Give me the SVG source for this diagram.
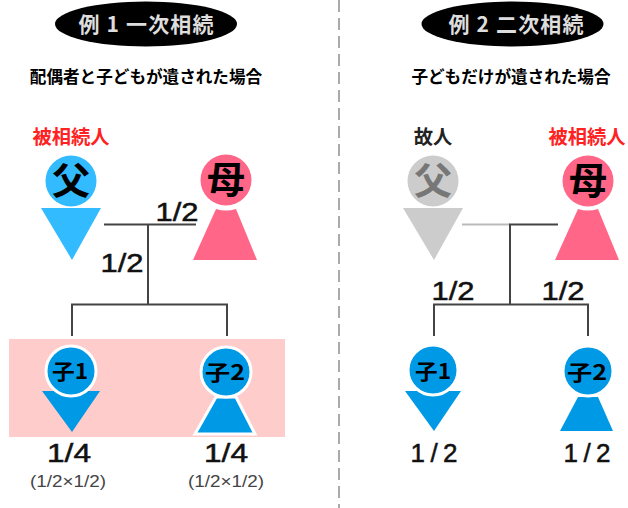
<svg xmlns="http://www.w3.org/2000/svg" width="628" height="508" viewBox="0 0 628 508">
<style>
text{font-family:"Noto Sans CJK JP","Liberation Sans",sans-serif;text-anchor:middle;font-weight:700;fill:#000}
.hd{font-size:21px;fill:#ddd;font-weight:700}
.sub{font-size:16.6px}
.red{font-size:19.300px;fill:#f22}
.gl{font-size:19.300px;fill:#222}
.big{font-size:38px}
.ch{font-size:21px;font-weight:700}
.fr{font-family:"Liberation Sans",sans-serif;font-size:26px;font-weight:400;fill:#111;stroke:#111;stroke-width:.5}
.sm{font-family:"Liberation Sans",sans-serif;font-size:17px;font-weight:400;fill:#444}
.ln{fill:none;stroke:#444;stroke-width:2}
.wh{stroke:#fff;stroke-width:3}
</style>
<rect width="628" height="508" fill="#fff"/>
<rect x="9" y="339" width="276" height="98" fill="#fcc"/>
<line x1="339" y1="0" x2="339" y2="508" stroke="#aaa" stroke-width="2" stroke-dasharray="12 6"/>
<g id="connectors">
<path class="ln" d="M104 224.500H196M148 224.500V304.500M72 336V304.500H227V336"/>
<path d="M462 224.500H510" fill="none" stroke="#bbb" stroke-width="2"/>
<path class="ln" d="M558 224.500H510V304.500M434 336V304.500H588V336"/>
</g>
<g id="title1"><ellipse cx="146" cy="24" rx="91" ry="22.500" fill="#000"/><text class="hd" x="146" y="32" textLength="135">例 1 一次相続</text></g>
<g id="title2"><ellipse cx="512.500" cy="24" rx="91" ry="22.500" fill="#000"/><text class="hd" x="516" y="32" textLength="135">例 2 二次相続</text></g>
<g id="sub1"><text class="sub" x="146" y="83">配偶者と子どもが遺された場合</text></g>
<g id="sub2"><text class="sub" x="511" y="83">子どもだけが遺された場合</text></g>
<g id="father1">
<text class="red" x="71" y="144">被相続人</text>
<circle cx="71" cy="181" r="25.500" fill="#33bbff"/>
<path d="M41 208H101L72 260Z" fill="#33bbff"/>
<text class="big" x="71" y="194">父</text>
</g>
<g id="mother1">
<circle cx="226" cy="180" r="25.500" fill="#ff6688"/>
<path d="M216 209Q226 212 236 209L257 260H193Z" fill="#ff6688"/>
<text class="big" x="226" y="193">母</text>
</g>
<text class="fr" x="177" y="221" textLength="43" lengthAdjust="spacingAndGlyphs">1/2</text>
<text class="fr" x="122" y="272" textLength="43" lengthAdjust="spacingAndGlyphs">1/2</text>
<g id="child1a">
<path d="M42 391H100L72 432Z" fill="#0099e6"/>
<circle cx="71" cy="371" r="25" fill="#0099e6" class="wh"/>
<text class="ch" x="70" y="379" textLength="36" lengthAdjust="spacingAndGlyphs">子1</text>
</g>
<g id="child2a">
<path d="M216 397H236L255 434H195Z" fill="#0099e6" class="wh"/>
<circle cx="226" cy="372" r="25" fill="#0099e6" class="wh"/>
<text class="ch" x="225" y="380" textLength="40" lengthAdjust="spacingAndGlyphs">子2</text>
</g>
<text class="fr" x="69" y="462" textLength="44" lengthAdjust="spacingAndGlyphs">1/4</text>
<text class="fr" x="226" y="462" textLength="44" lengthAdjust="spacingAndGlyphs">1/4</text>
<text class="sm" x="68" y="487" textLength="76" lengthAdjust="spacingAndGlyphs">(1/2×1/2)</text>
<text class="sm" x="226" y="487" textLength="76" lengthAdjust="spacingAndGlyphs">(1/2×1/2)</text>
<g id="father2">
<text class="gl" x="433" y="144">故人</text>
<circle cx="433" cy="181" r="25.500" fill="#ccc"/>
<path d="M403 208H463L434 260Z" fill="#ccc"/>
<text class="big" x="433" y="194" style="fill:#777">父</text>
</g>
<g id="mother2">
<text class="red" x="587" y="144">被相続人</text>
<circle cx="588" cy="181" r="25.500" fill="#ff6688"/>
<path d="M578 209Q588 212 598 209L619 260H555Z" fill="#ff6688"/>
<text class="big" x="588" y="194">母</text>
</g>
<text class="fr" x="453" y="300" textLength="43" lengthAdjust="spacingAndGlyphs">1/2</text>
<text class="fr" x="563" y="300" textLength="43" lengthAdjust="spacingAndGlyphs">1/2</text>
<g id="child1b">
<path d="M405 391H461L434 431Z" fill="#0099e6"/>
<circle cx="433" cy="370" r="25" fill="#0099e6" class="wh"/>
<text class="ch" x="433" y="379" textLength="36" lengthAdjust="spacingAndGlyphs">子1</text>
</g>
<g id="child2b">
<path d="M578 397H598L613 431H560Z" fill="#0099e6"/>
<circle cx="588" cy="371" r="25" fill="#0099e6" class="wh"/>
<text class="ch" x="587" y="380" textLength="40" lengthAdjust="spacingAndGlyphs">子2</text>
</g>
<text class="fr" x="434" y="462" textLength="47">1/2</text>
<text class="fr" x="587" y="462" textLength="47">1/2</text>
</svg>
